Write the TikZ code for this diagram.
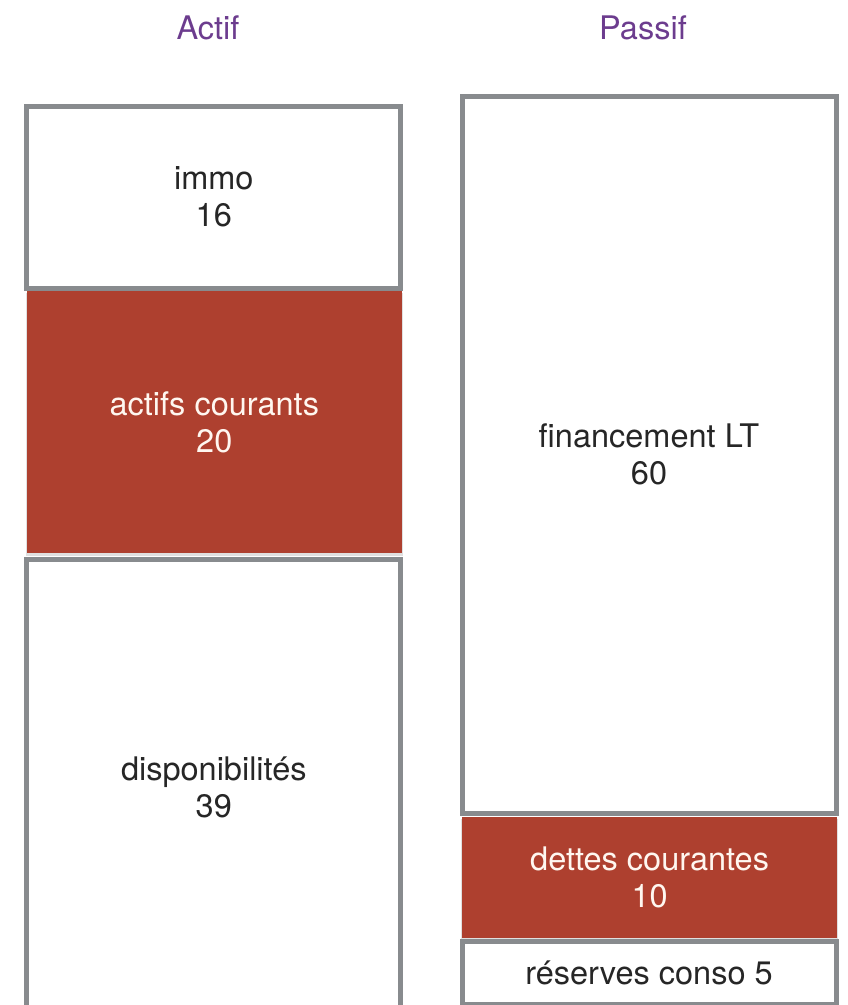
\documentclass[tikz,border=0pt]{standalone}
\usepackage{fontspec}
\setmainfont{TeX Gyre Heros}
\begin{document}
\begin{tikzpicture}[x=1pt,y=-1pt,
  every node/.style={inner sep=0pt,outer sep=0pt,align=center,
    font=\fontsize{32.5}{37}\selectfont},
  plainbox/.style={draw=boxgray,line width=5pt,fill=white,text=black!85,
    rectangle,minimum width=#1},
  redbox/.style={fill=bsred,text=white!94!orange,rectangle,minimum width=#1},
  title/.style={text=titlepurple}]
\definecolor{boxgray}{RGB}{136,139,142}
\definecolor{bsred}{RGB}{174,64,47}
\definecolor{titlepurple}{RGB}{108,60,142}
\useasboundingbox (0,0) rectangle (848,1005);
\clip (0,0) rectangle (848,1005);

% column headings
\node[title] (actif) at (208,28) {Actif};
\node[title] (passif) at (643,28) {Passif};

% soft shadows under the red blocks
\fill[black,opacity=0.12] (26,293) rectangle (403,556);
\fill[black,opacity=0.12] (461,819) rectangle (838,941);

% assets
\node[plainbox=374.3pt,minimum height=182pt] (immo) at (213.8,197) {immo\\16};
\node[redbox=375.3pt,minimum height=262.3pt] (actc) at (214.3,422) {actifs courants\\20};
\node[plainbox=374.3pt,minimum height=456pt] (dispo) at (213.8,787) {disponibilités\\39};

% liabilities
\node[plainbox=374pt,minimum height=717.5pt] (flt) at (649,454.75) {financement LT\\60};
\node[redbox=375.3pt,minimum height=121pt] (dettes) at (649.6,877.8) {dettes courantes\\10};
\node[plainbox=374pt,minimum height=62.5pt] (reserves) at (649,972.75) {réserves conso 5};
\end{tikzpicture}
\end{document}
